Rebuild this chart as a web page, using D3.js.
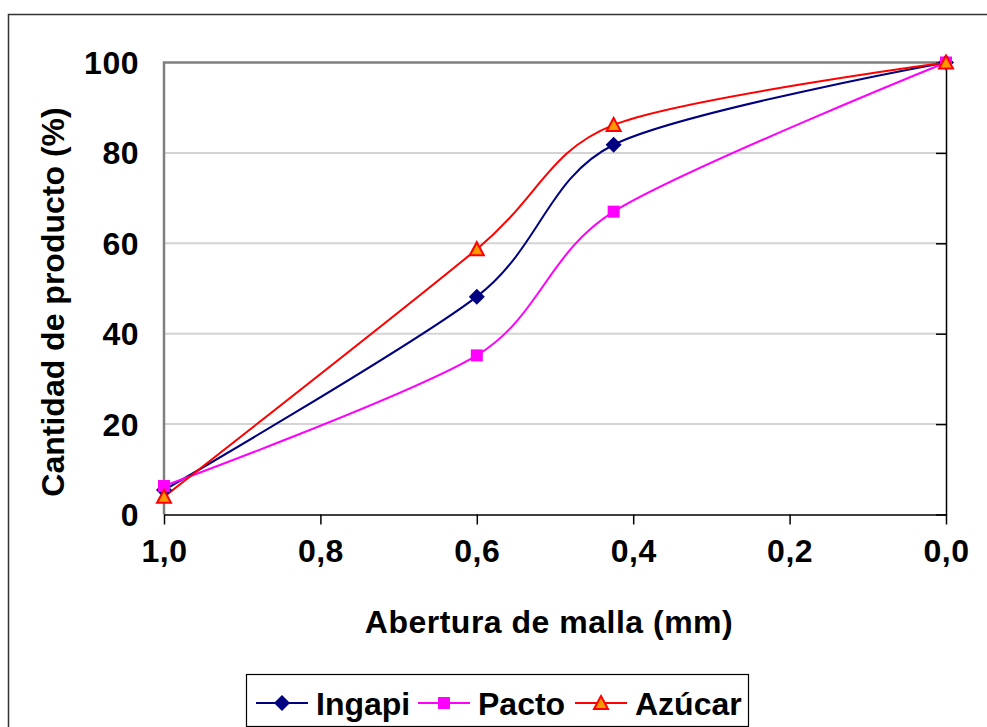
<!DOCTYPE html>
<html>
<head>
<meta charset="utf-8">
<script src="https://cdn.jsdelivr.net/npm/d3@7"></script>
<style>
  body { margin: 0; background: #fff; }
  text { font-family: "Liberation Sans", Arial, sans-serif; font-weight: bold; fill: #000; }
</style>
</head>
<body>
<div id="chart-area"></div>
<script>
// mesh opening (mm) and cumulative product (%)
var mallas = [1.0, 0.6, 0.425, 0.0];
var ingapi = [5.4, 48.2, 81.8, 100];
var pacto  = [6.3, 35.2, 67.0, 100];
var azucar = [3.9, 58.7, 86.2, 100];
var xTicks = [1.0, 0.8, 0.6, 0.4, 0.2, 0.0];
var yTicks = [0, 20, 40, 60, 80, 100];

var series = [
    { name: "Ingapi", values: ingapi, color: "#000080", marker: "diamond" },
    { name: "Pacto",  values: pacto,  color: "#FF00FF", marker: "square" },
    { name: "Azúcar", values: azucar, color: "#FF0000", marker: "triangle" }
];

var width = 987, height = 727;
var plot = { left: 164, right: 946, top: 62.5, bottom: 514.5 };

var svg = d3.select("#chart-area")
    .append("svg")
        .attr("width", width)
        .attr("height", height);

// outer chart border (runs off right and bottom)
svg.append("rect")
    .attr("x", 8.5).attr("y", 14.5)
    .attr("width", 1000).attr("height", 800)
    .attr("fill", "none")
    .attr("stroke", "#333")
    .attr("stroke-width", 1.5);

var x = d3.scaleLinear().domain([1, 0]).range([plot.left, plot.right]);
var y = d3.scaleLinear().domain([0, 100]).range([plot.bottom, plot.top]);

// gridlines
svg.append("g").selectAll("line")
    .data(yTicks.filter(function(d){ return d > 0 && d < 100; }))
    .enter().append("line")
        .attr("x1", plot.left).attr("x2", plot.right)
        .attr("y1", function(d){ return y(d); })
        .attr("y2", function(d){ return y(d); })
        .attr("stroke", "#d4d4d4")
        .attr("stroke-width", 2);

// plot area border top + left (gray)
svg.append("path")
    .attr("d", "M" + (plot.left) + "," + plot.bottom + "V" + plot.top + "H" + plot.right)
    .attr("fill", "none")
    .attr("stroke", "#808080")
    .attr("stroke-width", 2.5);

// x axis
var xAxis = svg.append("g")
    .attr("transform", "translate(0," + plot.bottom + ")")
    .call(d3.axisBottom(x).tickValues(xTicks).tickSize(10).tickSizeOuter(0)
        .tickFormat(function(d){ return d3.format(".1f")(d).replace(".", ","); }));
xAxis.select(".domain").attr("stroke", "#000").attr("stroke-width", 1.5);
xAxis.selectAll(".tick line").attr("stroke", "#000").attr("stroke-width", 1.5);
xAxis.selectAll(".tick text")
    .attr("y", 47).attr("dy", 0)
    .style("font-size", "32px")
    .style("letter-spacing", "0.5px")
    .style("font-family", "Liberation Sans, Arial, sans-serif")
    .style("font-weight", "bold");

// y axis line on the right, labels on the left
var yAxis = svg.append("g")
    .attr("transform", "translate(" + plot.right + ",0)")
    .call(d3.axisLeft(y).tickValues(yTicks).tickSize(10).tickSizeOuter(0).tickFormat(""));
yAxis.select(".domain").attr("stroke", "#000").attr("stroke-width", 1.5);
yAxis.selectAll(".tick line").attr("stroke", "#000").attr("stroke-width", 1.5);

svg.append("g").selectAll("text")
    .data(yTicks)
    .enter().append("text")
        .attr("x", 139)
        .attr("y", function(d){ return y(d) + 11.5; })
        .attr("text-anchor", "end")
        .style("font-size", "32px")
        .style("letter-spacing", "0.5px")
        .text(function(d){ return d; });

// axis titles
svg.append("text")
    .attr("x", 549).attr("y", 633)
    .attr("text-anchor", "middle")
    .style("font-size", "32px")
    .style("letter-spacing", "0.5px")
    .text("Abertura de malla (mm)");

svg.append("text")
    .attr("transform", "translate(64,302) rotate(-90)")
    .attr("text-anchor", "middle")
    .style("font-size", "32px")
    .text("Cantidad de producto (%)");

// lines
var line = d3.line()
    .x(function(d){ return x(d[0]); })
    .y(function(d){ return y(d[1]); })
    .curve(d3.curveCardinal.tension(0.15));

function drawMarker(g, type, color) {
    if (type === "diamond") {
        g.append("path").attr("d", "M0,-8L8,0L0,8L-8,0Z").attr("fill", color);
    } else if (type === "square") {
        g.append("rect").attr("x", -6).attr("y", -6).attr("width", 12).attr("height", 12).attr("fill", color);
    } else {
        g.append("path").attr("d", "M0,-7L7,6L-7,6Z")
            .attr("fill", "#FF9900").attr("stroke", color).attr("stroke-width", 2);
    }
}

series.forEach(function(s){
    var pts = mallas.map(function(m, i){ return [m, s.values[i]]; });
    svg.append("path")
        .datum(pts)
        .attr("d", line)
        .attr("fill", "none")
        .attr("stroke", s.color)
        .attr("stroke-width", 2);
});
series.forEach(function(s){
    mallas.forEach(function(m, i){
        var g = svg.append("g").attr("transform", "translate(" + x(m) + "," + y(s.values[i]) + ")");
        drawMarker(g, s.marker, s.color);
    });
});

// legend
var legend = svg.append("g");
legend.append("rect")
    .attr("x", 246.5).attr("y", 674.5)
    .attr("width", 502).attr("height", 52)
    .attr("fill", "#fff")
    .attr("stroke", "#000")
    .attr("stroke-width", 1.2);

var legendX = [256, 418, 575];
series.forEach(function(s, i){
    var lx = legendX[i];
    legend.append("line")
        .attr("x1", lx).attr("x2", lx + 52)
        .attr("y1", 703).attr("y2", 703)
        .attr("stroke", s.color).attr("stroke-width", 2);
    var g = legend.append("g").attr("transform", "translate(" + (lx + 26) + ",703)");
    drawMarker(g, s.marker, s.color);
    legend.append("text")
        .attr("x", lx + 60).attr("y", 714.5)
        .style("font-size", "32px")
        .text(s.name);
});
</script>
</body>
</html>
